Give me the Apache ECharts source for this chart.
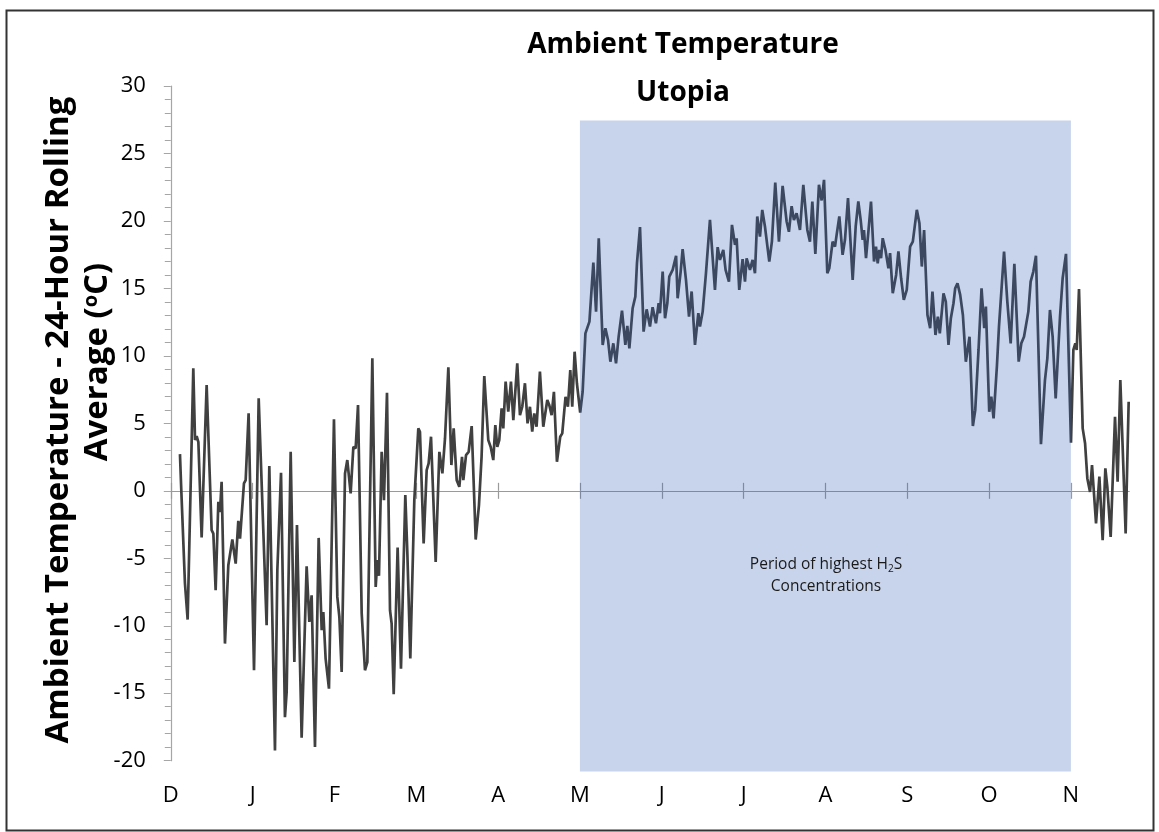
<!DOCTYPE html>
<html>
<head>
<meta charset="utf-8">
<script src="https://cdn.jsdelivr.net/npm/echarts@6/dist/echarts.min.js"></script>
<style>
html,body{margin:0;padding:0;background:#fff;}
#chart{width:1159px;height:832px;}
</style>
</head>
<body>
<div id="chart"></div>
<script>
// Month tick labels (Dec .. Nov)
const monthLabels = ['D','J','F','M','A','M','J','J','A','S','O','N'];
// Time position in months since the start of December
const months = [
0.112,0.125,0.173,0.206,0.275,0.296,0.316,0.337,0.377,0.438,0.499,0.520,0.548,0.581,0.601,0.621,0.662,0.703,0.752,0.793,
0.825,0.846,0.894,0.915,0.951,1.017,1.074,1.171,1.204,1.273,1.302,1.347,1.395,1.416,1.465,1.510,1.542,1.599,1.660,1.693,
1.721,1.762,1.807,1.844,1.864,1.892,1.933,1.994,
2.035,2.060,2.088,2.129,2.157,2.198,2.231,2.259,2.288,2.333,2.373,2.402,2.463,2.504,2.524,2.544,2.577,2.605,2.642,2.679,
2.699,2.724,2.772,2.813,2.866,2.891,2.927,2.976,3.025,3.045,3.090,3.127,3.151,3.180,3.237,3.282,3.319,3.351,3.392,3.429,
3.457,3.494,3.526,3.559,3.575,3.608,3.640,3.677,3.726,3.766,3.798,3.831,3.880,3.909,
3.941,3.966,3.990,4.014,4.043,4.063,4.092,4.124,4.157,4.186,4.234,4.267,4.295,4.328,4.360,4.389,4.417,4.442,4.470,4.511,
4.552,4.572,4.601,4.625,4.654,4.682,4.719,4.759,4.784,4.824,4.853,4.882,4.906,4.935,4.963,5.003,5.033,5.067,5.095,5.116,
5.164,5.197,5.230,5.278,5.311,5.343,5.372,5.408,5.441,5.473,5.514,5.555,5.579,5.604,5.644,5.677,5.697,5.734,5.778,5.815,
5.856,5.888,5.929,5.962,
5.978,6.011,6.040,6.068,6.092,6.133,6.175,6.194,6.231,6.255,6.296,6.333,6.365,6.406,6.447,6.467,6.500,6.540,6.589,6.650,
6.683,6.711,6.752,6.780,6.821,6.858,6.895,6.915,6.947,6.988,7.017,7.037,7.078,7.110,7.139,7.167,7.200,7.228,7.261,7.314,
7.346,7.387,7.432,7.477,7.526,7.554,7.587,7.615,7.648,7.689,7.730,7.779,7.811,7.840,7.877,7.921,7.954,7.983,8.023,
8.047,8.088,8.117,8.137,8.170,8.210,8.239,8.276,8.333,8.370,8.402,8.431,8.455,8.471,8.496,8.529,8.557,8.594,8.618,8.639,
8.659,8.680,8.700,8.733,8.770,8.790,8.823,8.864,8.892,8.925,8.958,8.994,9.035,9.068,9.117,9.149,9.178,9.206,9.247,9.280,
9.308,9.345,9.374,9.398,9.443,9.471,9.504,9.533,9.565,9.586,9.614,9.647,9.680,9.716,9.761,9.802,9.831,9.871,9.908,9.941,
9.961,10.002,10.027,10.055,10.096,
10.121,10.183,10.223,10.264,10.309,10.362,10.394,10.427,10.451,10.480,10.508,10.541,10.573,10.634,10.683,10.712,10.744,10.777,10.814,10.867,
10.899,10.940,11.001,11.030,11.054,11.071,11.099,11.144,11.173,11.201,11.234,11.258,11.282,11.307,11.348,11.388,11.421,11.445,11.486,11.539,
11.571,11.604,11.669,11.706
];
// 24-hour rolling average ambient temperature (°C)
const temps = [
2.72,0.55,-6.87,-9.54,9.08,3.76,4.05,3.6,-3.46,7.84,-2.92,-3.17,-7.37,-0.82,-1.57,0.67,-11.32,-5.51,-3.61,-5.39,
-2.23,-3.54,0.55,0.8,5.74,-13.3,6.85,-9.96,1.83,-19.24,-5.88,1.34,-16.77,-14.9,2.89,-12.69,-2.54,-18.3,-5.59,-9.72,
-7.74,-18.99,-3.49,-10.33,-8.98,-12.43,-14.66,5.3,
-7.86,-9.35,-13.43,1.29,2.28,-0.19,3.26,3.14,6.36,-9.1,-13.3,-12.69,9.82,-7.12,-5.14,-6.3,2.89,-0.69,7.27,-8.85,
-9.84,-15.08,-4.2,-13.18,-0.32,-4.64,-12.43,-0.69,4.63,4.38,-3.9,1.54,2.03,4.01,-5.27,2.89,1.29,3.88,9.15,1.91,
4.63,0.79,0.3,2.52,0.79,2.65,2.89,4.8,-3.61,-1.06,2.52,8.51,3.76,3.26,
2.28,4.87,3.26,3.76,6.11,4.63,8.09,5.86,8.09,5.24,9.45,5.61,6.23,7.97,5.0,6.23,4.38,5.73,4.75,8.83,
4.75,4.63,6.73,6.36,5.61,7.34,2.15,4.01,4.26,6.97,6.23,8.95,6.23,10.31,7.97,5.79,7.34,11.67,12.17,12.54,
16.91,13.28,18.72,10.81,12.05,11.18,9.57,10.93,9.45,11.42,13.35,10.81,12.22,10.56,13.53,14.39,16.87,19.54,11.8,13.45,
12.17,13.6,12.42,13.9,
13.16,16.25,12.79,13.9,15.88,16.37,17.41,14.27,16.25,17.91,15.63,12.91,14.77,10.81,13.16,12.17,13.28,16.12,20.08,14.89,
18.06,17.11,17.86,16.37,15.5,19.71,18.23,18.72,14.89,17.16,15.5,17.23,16.37,17.11,16.12,20.33,18.84,20.82,19.59,16.99,
18.47,22.85,18.47,22.6,19.96,19.2,21.1,20.06,20.57,19.33,22.68,19.33,18.47,21.44,17.56,22.68,21.52,23.05,16.12,
16.49,18.47,18.1,18.97,20.33,17.49,18.6,21.69,15.63,19.59,21.44,20.06,18.6,19.33,17.24,19.46,21.44,16.99,18.1,16.86,
17.86,17.24,18.72,17.86,16.49,17.61,14.64,16.0,17.74,15.75,14.15,14.89,18.1,18.47,20.82,19.83,16.62,19.33,13.03,12.05,
14.77,11.55,12.91,11.67,14.64,14.02,10.81,12.79,13.9,15.01,15.38,14.52,13.03,9.57,11.42,4.8,5.98,10.44,15.01,12.05,
13.65,5.86,6.97,5.37,9.27,
12.17,17.73,14.02,10.93,16.82,9.57,10.93,11.42,11.55,13.28,15.5,16.25,17.42,3.46,8.21,9.82,13.4,11.42,6.85,12.91,
15.75,17.56,3.56,10.44,10.93,10.44,14.95,4.63,3.53,0.92,-0.08,1.9,-0.2,-2.42,1.05,-3.66,1.66,0.3,-3.42,5.49,
0.67,8.21,-3.16,6.6
];
// Highlighted period (May .. November), y range of the band
const periodStart = 5, periodEnd = 11;
const periodTop = 27.45, periodBottom = -20.8;

const xMax = 11.71;
const font = "'Open Sans', 'Noto Sans', sans-serif";
const lineData = months.map((m, i) => [m, temps[i]]);
const tickVals = monthLabels.map((_, i) => i);

const chart = echarts.init(document.getElementById('chart'), null, {renderer: 'canvas'});
chart.setOption({
  animation: false,
  backgroundColor: '#fff',
  grid: {left: 170.8, right: 30, top: 86, bottom: 71.3, containLabel: false},
  xAxis: [
    {
      type: 'value', min: 0, max: xMax, interval: 1, position: 'bottom',
      axisLine: {show: false, onZero: false},
      axisTick: {show: false},
      splitLine: {show: false},
      axisLabel: {
        margin: 24, color: '#000', fontFamily: font, fontSize: 22,
        customValues: tickVals,
        formatter: v => (Number.isInteger(v) && monthLabels[v] !== undefined) ? monthLabels[v] : ''
      }
    },
    {
      type: 'value', min: 0, max: xMax, interval: 1, position: 'bottom',
      axisLine: {show: true, onZero: true, onZeroAxisIndex: 0, lineStyle: {color: '#9a9a9a', width: 1.2}},
      axisTick: {show: true, length: 8, inside: false, customValues: tickVals, lineStyle: {color: '#9a9a9a', width: 1.2}},
      axisLabel: {show: false}, splitLine: {show: false}
    },
    {
      type: 'value', min: 0, max: xMax, interval: 1, position: 'top',
      axisLine: {show: true, onZero: true, onZeroAxisIndex: 0, lineStyle: {color: '#9a9a9a', width: 1.2}},
      axisTick: {show: true, length: 8, inside: false, customValues: tickVals, lineStyle: {color: '#9a9a9a', width: 1.2}},
      axisLabel: {show: false}, splitLine: {show: false}
    }
  ],
  yAxis: {
    type: 'value', min: -20, max: 30, interval: 5,
    axisLine: {show: true, onZero: false, lineStyle: {color: '#a6a6a6', width: 1.2}},
    axisTick: {show: true, length: 7, lineStyle: {color: '#a6a6a6'}},
    minorTick: {show: true, splitNumber: 5, length: 6, lineStyle: {color: '#a6a6a6'}},
    splitLine: {show: false},
    axisLabel: {margin: 25, color: '#000', fontFamily: font, fontSize: 22}
  },
  series: [
    {
      type: 'line', xAxisIndex: 0, data: lineData, showSymbol: false, symbol: 'none',
      lineStyle: {color: '#404040', width: 2.7}, z: 2, silent: true
    },
    {
      type: 'custom', xAxisIndex: 0, clip: false, z: 5, silent: true,
      data: [[periodStart, periodEnd, periodTop, periodBottom]],
      encode: {x: [0, 1], y: [2, 3]},
      renderItem: (params, api) => {
        const p1 = api.coord([api.value(0), api.value(2)]);
        const p2 = api.coord([api.value(1), api.value(3)]);
        return {
          type: 'rect',
          shape: {x: p1[0], y: p1[1], width: p2[0] - p1[0], height: p2[1] - p1[1]},
          style: {fill: 'rgba(53,97,181,0.27)'}
        };
      }
    }
  ],
  graphic: [
    {type: 'rect', left: 4, top: 8, z: 100, silent: true,
     shape: {x: 0, y: 0, width: 1147, height: 820},
     style: {fill: 'none', stroke: '#333', lineWidth: 2}},
    {type: 'text', x: 683, y: 45, z: 100, silent: true,
     style: {text: 'Ambient Temperature', font: `bold 28px ${font}`, fill: '#000', textAlign: 'center', textVerticalAlign: 'middle'}},
    {type: 'text', x: 683, y: 93, z: 100, silent: true,
     style: {text: 'Utopia', font: `bold 28px ${font}`, fill: '#000', textAlign: 'center', textVerticalAlign: 'middle'}},
    {type: 'text', x: 59, y: 420, rotation: Math.PI / 2, z: 100, silent: true,
     style: {text: 'Ambient Temperature - 24-Hour Rolling', font: `bold 33px ${font}`, fill: '#000', textAlign: 'center', textVerticalAlign: 'middle'}},
    {type: 'text', x: 98, y: 362, rotation: Math.PI / 2, z: 100, silent: true,
     style: {text: 'Average ({sup|o}C)', font: `bold 33px ${font}`, fill: '#000', textAlign: 'center', textVerticalAlign: 'middle',
       rich: {sup: {font: `bold 20px ${font}`, fill: '#000', verticalAlign: 'top', padding: [0, 0, 12, 0]}}}},
    {type: 'text', x: 826, y: 565, z: 100, silent: true,
     style: {text: 'Period of highest H{sub|2}S', font: `15.5px ${font}`, fill: '#1a1a1a', textAlign: 'center', textVerticalAlign: 'middle',
       rich: {sub: {font: `10px ${font}`, fill: '#1a1a1a', padding: [8, 0, 0, 0]}}}},
    {type: 'text', x: 826, y: 587, z: 100, silent: true,
     style: {text: 'Concentrations', font: `15.5px ${font}`, fill: '#1a1a1a', textAlign: 'center', textVerticalAlign: 'middle'}}
  ]
});
</script>
</body>
</html>
